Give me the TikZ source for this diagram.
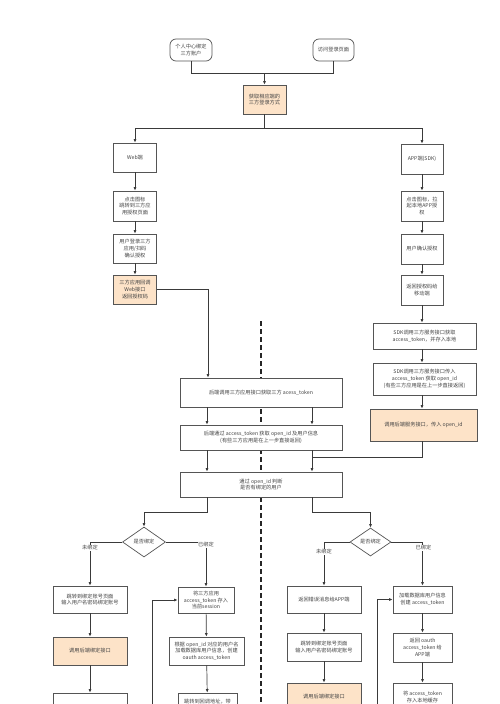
\documentclass[tikz,border=0pt]{standalone}
\usepackage{fontspec}
\setmainfont{Noto Sans CJK SC}
\usetikzlibrary{arrows.meta,shapes.geometric}
\definecolor{peach}{HTML}{FDE3C8}
\definecolor{ln}{HTML}{3A3A3A}
\definecolor{bd}{HTML}{555555}
\definecolor{tx}{HTML}{444444}
\begin{document}
\begin{tikzpicture}[x=1pt,y=-1pt,
  every node/.style={font=\fontsize{5.2}{6.8}\selectfont, text=tx},
  box/.style={draw=bd, line width=0.7pt, fill=white, align=center, inner sep=0.5pt},
  pbox/.style={box, fill=peach},
  rbox/.style={box, rounded corners=6pt},
  sz/.style 2 args={minimum width=#1pt, minimum height=#2pt},
  dia/.style={draw=bd, line width=0.7pt, fill=white, diamond, inner sep=0pt, aspect=1.45},
  conn/.style={draw=ln, line width=0.7pt},
  arr/.style={conn, -{Latex[length=3.5pt,width=3pt]}},
  lab/.style={fill=white, inner sep=0.6pt},
  sepline/.style={draw=black!85, line width=1.3pt, dash pattern=on 5pt off 3pt}
]
\clip (0,0) rectangle (500,704);
\fill[white] (0,0) rectangle (500,704);

% separator
\coordinate (dtop) at (261,321);
\coordinate (dbot) at (261,712);
\draw[sepline] (dtop) -- (dbot);

% top
\node[rbox, sz={42}{22}] (top1) at (191,50) {个人中心绑定\\三方账户};
\node[rbox, sz={41}{22}] (top2) at (333.5,50) {访问登录页面};
\node[pbox, sz={43}{29}] (sel) at (264.5,99.5) {获取相应端的\\三方登录方式};

% web
\node[box, sz={43}{29}] (web) at (135,157.5) {Web端};
\node[box, sz={43}{30}] (web2) at (135,206) {点击图标\\跳转到三方应\\用授权页面};
\node[box, sz={43}{29}] (web3) at (135,248.5) {用户登录三方\\应用/扫码\\确认授权};
\node[pbox, sz={43}{29}] (web4) at (135,289.5) {三方应用回调\\Web接口\\返回授权码};

% app
\node[box, sz={42}{30}] (app) at (422,159) {APP端(SDK)};
\node[box, sz={42}{30}] (app2) at (422,206) {点击图标，拉\\起本地APP授\\权};
\node[box, sz={42}{30}] (app3) at (422,249) {用户确认授权};
\node[box, sz={42}{30}] (app4) at (422,290) {返回授权码给\\移动端};
\node[box, sz={103}{26}] (sdk1) at (424.5,336) {SDK调用三方服务接口获取\\access\_token，并存入本地};
\node[box, sz={103}{32}] (sdk2) at (424.5,379) {SDK调用三方服务接口传入\\access\_token 获取 open\_id\\(有些三方应用是在上一步直接返回)};
\node[pbox, sz={107}{32}] (appcall) at (423.5,425) {调用后端服务接口，传入 open\_id};

% backend
\node[box, sz={162}{29}] (b1) at (261,392.5) {后端调用三方应用接口获取三方 acess\_token};
\node[box, sz={162}{25}] (b2) at (261,437.5) {后端通过 access\_token 获取 open\_id 及用户信息\\(有些三方应用是在上一步直接返回)};
\node[box, sz={162}{25}] (b3) at (261,484.5) {通过 open\_id 判断\\是否有绑定的用户};

% decisions
\node[dia, sz={43}{30}] (dl) at (144,542) {是否绑定};
\node[dia, sz={41}{28}] (dr) at (370.5,542) {是否绑定};

% web bind branch
\node[box, sz={74}{27}] (l1) at (90,599.5) {跳转到绑定账号页面\\输入用户名密码绑定账号};
\node[pbox, sz={74}{28}] (l2) at (90,651) {调用后端绑定接口};
\node[box, sz={74}{28}] (l3) at (90,707) {};
\node[box, sz={56}{26}] (m1) at (206,600) {将三方应用\\access\_token 存入\\当前session};
\node[box, sz={75}{28}] (m2) at (206.5,651) {根据 open\_id 对应的用户名\\加载数据库用户信息，创建\\oauth access\_token};
\node[box, sz={59}{30}] (m3) at (207.5,708) {跳转到回调地址，带\\\phantom{跳}\\\phantom{跳}};

% app bind branch
\node[box, sz={74}{27}] (r1) at (324,599.5) {返回错误消息给APP端};
\node[box, sz={74}{28}] (r2) at (324,647) {跳转到绑定账号页面\\输入用户名密码绑定账号};
\node[pbox, sz={74}{28}] (r3) at (324,697) {调用后端绑定接口};
\node[box, sz={59}{27}] (s1) at (422.5,599.5) {加载数据库用户信息\\创建 access\_token};
\node[box, sz={59}{29}] (s2) at (422.5,647.5) {返回 oauth\\access\_token 给\\APP端};
\node[box, sz={59}{28}] (s3) at (422.5,697) {将 access\_token\\存入本地缓存};

% helper coordinates
\coordinate (j1) at (264.5,73);
\coordinate (j2) at (264.5,128);
\coordinate (xw) at (208,0);
\coordinate (xl) at (207,0);
\coordinate (xr) at (312,0);
\coordinate (j3) at (312,457);
\coordinate (loopL) at (152,712);
\coordinate (loopR) at (377,712);

% connectors top
\draw[conn] (top1.south) |- (j1);
\draw[conn] (top2.south) |- (j1);
\draw[arr] (j1) -- (sel.north);
\draw[conn] (sel.south) -- (j2);
\draw[arr] (j2) -| (web.north);
\draw[arr] (j2) -| (app.north);

% web chain
\draw[arr] (web) -- (web2);
\draw[arr] (web2) -- (web3);
\draw[arr] (web3) -- (web4);
\draw[arr] (web4.east) -| (b1.north -| xw);

% app chain
\draw[arr] (app) -- (app2);
\draw[arr] (app2) -- (app3);
\draw[arr] (app3) -- (app4);
\draw[arr] (app4.south) -- (app4.south |- sdk1.north);
\draw[arr] (app4.south |- sdk1.south) -- (app4.south |- sdk2.north);
\draw[arr] (app4.south |- sdk2.south) -- (app4.south |- appcall.north);
\draw[conn] (appcall.south -| app4.south) |- (j3);

% backend chain
\draw[arr] (b1.south -| xl) -- (b2.north -| xl);
\draw[arr] (b1.south -| xr) -- (b2.north -| xr);
\draw[arr] (b2.south -| xl) -- (b3.north -| xl);
\draw[arr] (b2.south -| xr) -- (b3.north -| xr);
\draw[arr] (b3.south -| xl) -- ++(0,15) -| (dl.north);
\draw[arr] (b3.south -| xr) -- ++(0,15) -| (dr.north);

% decisions
\draw[arr] (dl.west) -| (l1.north);
\draw[arr] (dl.east) -| (m1.north);
\draw[arr] (dr.west) -| (r1.north);
\draw[arr] (dr.east) -| (s1.north);
\node[lab] (lbl1) at (90,548) {未绑定};
\node[lab] (lbl2) at (206,544.5) {已绑定};
\node[lab] (lbl3) at (324,552) {未绑定};
\node[lab] (lbl4) at (423.5,548) {已绑定};

% lower chains
\draw[arr] (l1) -- (l2);
\draw[arr] (l2) -- (l3);
\draw[arr] (m1) -- (m2);
\draw[arr] (m2) -- (m3);
\draw[arr] (r1) -- (r2);
\draw[arr] (r2) -- (r3);
\draw[arr] (s1) -- (s2);
\draw[arr] (s2) -- (s3);
\draw[arr] (loopL) |- (m1.west);
\draw[arr] (loopR) |- (s1.west);
\end{tikzpicture}
\end{document}
